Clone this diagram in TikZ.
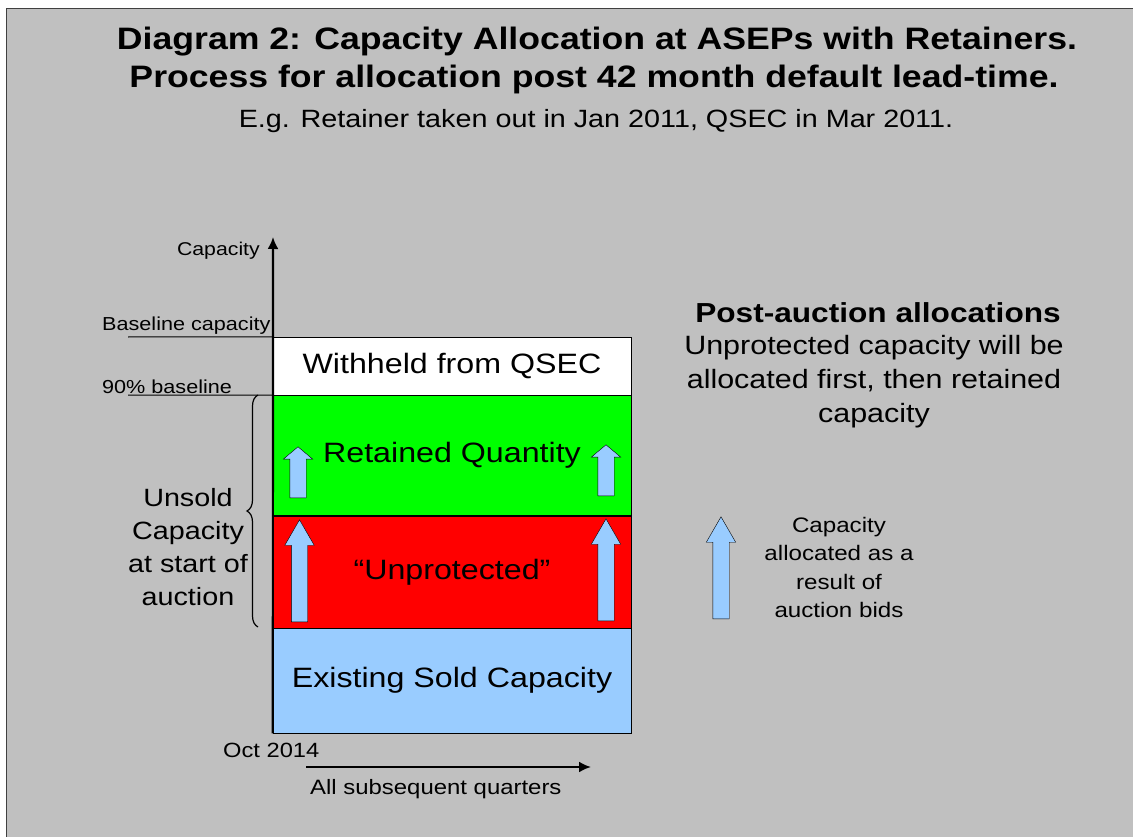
\documentclass[tikz,border=0pt]{standalone}
\usepackage{fontspec}
\setmainfont{Liberation Sans}[FakeStretch=1.15]
\usepackage{tikz}
\usetikzlibrary{positioning, arrows.meta, shapes.arrows, decorations.pathreplacing}
\definecolor{slidegrey}{HTML}{C0C0C0}
\definecolor{soldblue}{HTML}{99CCFF}
\definecolor{retgreen}{HTML}{00FF00}
\definecolor{unpred}{HTML}{FF0000}
\def\fs#1#2{\fontsize{#1}{#2}\selectfont}

\begin{document}
\begin{tikzpicture}[x = 1pt, y = -1pt, >={Latex[length = 12pt, width = 11pt]},
		every node/.style = {inner sep = 0pt},
		band/.style = {draw, minimum width = 358pt, font = \fs{28}{30}},
		bid/.style = {single arrow, draw, fill = soldblue, rotate = 90, anchor = tail,
			text height = 16pt, text depth = 0pt, minimum width = 29pt,
			single arrow head extend = 6.5pt, single arrow tip angle = 60}]
		\useasboundingbox (0,0) rectangle (1133,837);
		\fill[slidegrey] (6,8) rectangle (1133,837);
		\draw[black!75, line width = 1.5pt] (6.5,837) -- (6.5,8.5) -- (1133,8.5);
		% headings
		\node[anchor = base, font = \bfseries\fs{31}{35}] (title) at (597,50) {Diagram 2: Capacity Allocation at ASEPs with Retainers.};
		\node[anchor = base, font = \bfseries\fs{31}{35}] (process) at (594,88) {Process for allocation post 42 month default lead-time.};
		\node[anchor = base, font = \fs{25}{28}] (example) at (596,128) {E.g. Retainer taken out in Jan 2011, QSEC in Mar 2011.};
		% capacity stack
		\node[band, fill = white, minimum height = 58pt] (withheld) at (452,366) {Withheld from QSEC};
		\node[band, fill = retgreen, minimum height = 120pt, below = 0pt of withheld] (retained) {Retained Quantity};
		\node[band, fill = unpred, minimum height = 112pt, below = 0pt of retained] (unprot) {“Unprotected”};
		\node[band, fill = soldblue, minimum height = 105pt, below = 0pt of unprot] (sold) {Existing Sold Capacity};
		\node[bid, minimum height = 51pt, single arrow tip angle = 100] (retL) at (298,498) {};
		\node[bid, minimum height = 51pt, single arrow tip angle = 100] (retR) at (606,496) {};
		\node[bid, minimum height = 102pt] (unpL) at (299.5,622) {};
		\node[bid, minimum height = 102pt] (unpR) at (606,621) {};
		% axes
		\coordinate (captop) at (273,237);
		\draw[->, line width = 2.2pt] (sold.south west) -- (captop);
		\node[anchor = base east, font = \fs{18.5}{20}] (caplabel) at (260,256) {Capacity};
		\node[anchor = base west, font = \fs{18.8}{20}] (baselbl) at (102,330) {Baseline capacity};
		\node[anchor = base west, font = \fs{18.8}{20}] (ninetylbl) at (102,393.5) {90\% baseline};
		\coordinate (baseL) at (128,337);
		\coordinate (ninetyL) at (128,395);
		\draw[line width = 1pt] (baseL) -- (withheld.north west);
		\draw[line width = 1pt] (ninetyL) -- (withheld.south west);
		\node[anchor = base west, font = \fs{20.6}{22}] (oct) at (223,757) {Oct 2014};
		\coordinate (tstart) at (306,767);
		\coordinate (tend) at (591,767);
		\draw[->, line width = 2.2pt] (tstart) -- (tend);
		\node[anchor = base west, font = \fs{20.8}{22}] (quarters) at (310,794) {All subsequent quarters};
		% unsold brace
		\coordinate (braceB) at (258,627);
		\coordinate (braceT) at (258,395);
		\draw[line width = 1.2pt, decorate, decoration = {brace, amplitude = 11pt}] (braceB) -- (braceT);
		\node[anchor = north, align = center, font = \fs{25}{33}] (unsold) at (188,488) {Unsold\\Capacity\\at start of\\auction};
		% right hand notes
		\node[anchor = base, font = \bfseries\fs{27.5}{30}] (post) at (878,322) {Post-auction allocations};
		\node[anchor = north, align = center, font = \fs{26.5}{34}] (order) at (874,334.7) {Unprotected capacity will be\\allocated first, then retained\\capacity};
		\node[bid, minimum height = 102pt] (legend) at (721,619) {};
		\node[anchor = north, align = center, font = \fs{21}{28.5}] (legendtxt) at (839,516.7) {Capacity\\allocated as a\\result of\\auction bids};
	\end{tikzpicture}
\end{document}
